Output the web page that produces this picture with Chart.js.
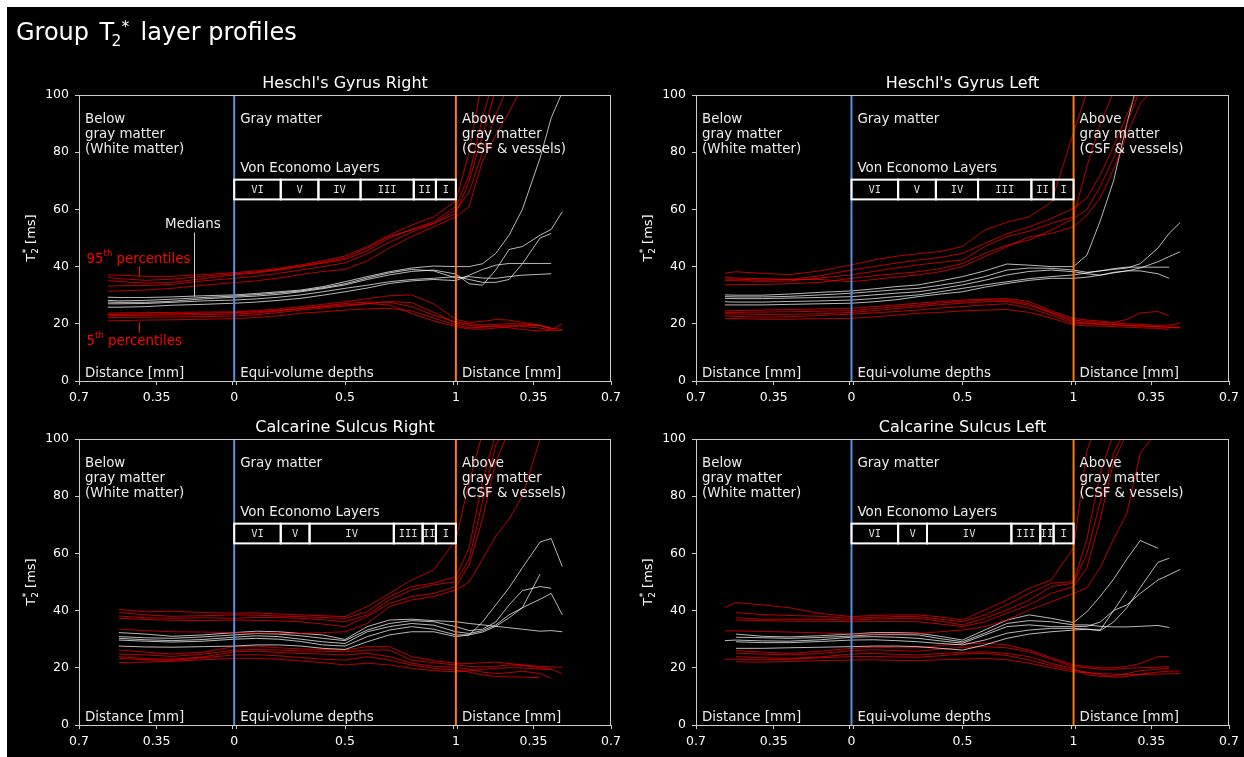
<!DOCTYPE html>
<html>
<head>
<meta charset="utf-8">
<script src="https://cdn.jsdelivr.net/npm/chart.js@4.4.0/dist/chart.umd.min.js"></script>
<style>
html,body{margin:0;padding:0;background:#fff;width:1244px;height:757px;overflow:hidden}
canvas{position:absolute;display:block}
</style>
</head>
<body>
<canvas id="bg" width="1244" height="757" style="left:0;top:0"></canvas>
<canvas id="c1"></canvas>
<canvas id="c2"></canvas>
<canvas id="c3"></canvas>
<canvas id="c4"></canvas>
<script>
// ---------------- data ----------------
const XS = [-0.57,-0.52,-0.4,-0.28,-0.14, 0,0.1,0.2,0.3,0.4,0.5,0.6,0.7,0.8,0.9,1.0, 1.06,1.12,1.18,1.24,1.30,1.38,1.43,1.48];
const X_TICKS = [-0.7,-0.35,-0.009,0,0.009,0.5,0.991,1,1.009,1.35,1.7];
const X_TICK_LABELS = ["0.7","0.35","","0","","0.5","","1","","0.35","0.7"];
const Y_TICKS = [0,20,40,60,80,100];
const LAYER_NAMES = ["VI","V","IV","III","II","I"];
const HG_LAYER_BOUNDS = [0,0.21,0.38,0.57,0.81,0.91,1.0];
const CS_LAYER_BOUNDS = [0,0.21,0.34,0.72,0.85,0.91,1.0];
const PANEL_TITLES = ["Heschl's Gyrus Right","Heschl's Gyrus Left","Calcarine Sulcus Right","Calcarine Sulcus Left"];

// Heschl's Gyrus Right
const HGR_P95 = [
 [37.1,37.0,36.6,36.6,37.2, 37.9,38.5,39.4,40.6,42.0,43.7,47.0,51.0,54.5,57.4,63.0, 80,106,null,null,null,null,null,null],
 [35.1,34.8,34.2,34.5,35.8, 37.1,37.8,38.8,40.0,41.2,42.5,45.5,50.0,53.0,55.7,61.0, 72,92,108,null,null,null,null,null],
 [33.2,33.3,33.4,33.8,35.0, 35.9,36.6,37.6,38.8,40.0,41.3,44.5,48.5,52.0,55.0,59.8, 66,80,93,104,null,null,null,null],
 [31.4,31.5,31.8,32.4,33.5, 34.4,35.0,36.0,37.2,38.3,39.0,42.0,46.5,50.5,53.9,57.4, 61,77,86,94,103,null,null,null],
 [36.2,35.8,35.2,35.6,36.6, 37.5,38.1,39.0,40.2,41.5,43.0,46.5,50.5,52.8,55.2,58.5, 70,86,102,null,null,null,null,null]
];
const HGR_MED = [
 [29.3,29.2,29.2,29.4,29.8, 30.1,30.6,31.2,31.8,33.0,34.7,36.5,38.2,39.5,40.2,40.0, 40.0,41.0,44.6,51.0,60.0,78.0,92.0,101],
 [27.6,27.5,27.5,27.9,28.7, 29.3,29.7,30.3,31.2,32.3,33.6,35.5,37.1,38.3,38.8,37.4, 34.0,33.5,38.8,46.0,47.0,51.0,53.0,59.2],
 [27.0,27.0,27.1,27.5,28.0, 28.3,28.7,29.3,30.1,31.2,32.4,33.5,34.7,35.5,35.9,36.5, 35.5,34.5,34.5,35.5,41.0,50.0,51.6,null],
 [25.8,25.8,26.0,26.5,26.8, 27.2,27.6,28.2,28.9,30.0,31.2,32.5,34.1,35.0,35.5,35.1, 37.0,39.0,40.5,41.1,41.1,41.1,41.1,null],
 [28.2,28.0,28.2,28.6,29.2, 29.7,30.2,30.8,31.5,32.6,34.0,36.0,37.8,39.0,38.5,36.0, 36.5,36.0,35.9,36.5,37.0,37.3,37.5,null]
];
const HGR_P5 = [
 [23.7,23.8,23.9,24.0,24.1, 24.2,24.6,25.2,26.0,26.8,27.7,28.8,29.8,30.1,27.0,21.5, 20.5,20.8,21.5,21.3,20.5,19.5,18.5,18.0],
 [22.8,22.9,23.0,23.1,23.2, 23.4,23.8,24.5,25.4,26.2,27.1,27.6,27.5,26.0,23.0,20.7, 20.0,19.6,19.8,20.0,20.0,19.4,18.2,null],
 [22.1,22.2,22.3,22.4,22.5, 22.7,23.2,23.9,24.8,25.5,26.2,27.0,27.8,27.4,24.0,20.2, 19.4,19.0,19.2,19.4,19.1,18.5,17.8,20.1],
 [21.0,21.1,21.3,21.4,21.6, 21.8,22.2,22.8,23.7,24.2,24.8,25.2,25.4,24.5,22.0,19.6, 18.6,18.8,19.2,18.6,18.0,17.5,17.8,17.6],
 [23.2,23.3,23.4,23.5,23.7, 23.9,24.2,24.7,25.3,26.0,26.6,27.1,26.6,23.6,21.0,19.0, 18.2,18.1,18.5,19.0,19.5,19.4,18.4,null]
];

// Heschl's Gyrus Left
const HGL_P95 = [
 [37.7,38.2,37.6,37.2,38.5, 40.6,42.3,43.6,44.5,45.3,47.0,52.8,55.5,57.4,62.5,87.0, 101,null,null,null,null,null,null,null],
 [35.6,35.6,35.3,35.5,36.8, 38.8,40.0,41.2,42.3,43.2,44.6,48.1,51.5,53.9,56.8,60.4, 64,72,82,93,104,null,null,null],
 [35.1,35.1,34.8,35.0,36.0, 37.1,38.3,39.5,40.6,41.5,42.3,47.0,50.5,52.4,55.1,57.4, 75,90,101,null,null,null,null,null],
 [33.6,33.7,33.8,34.0,34.5, 35.9,36.8,37.5,38.2,39.3,41.1,44.6,47.5,49.3,52.8,56.8, 60,68,78,90,102,null,null,null],
 [36.2,36.0,35.8,35.5,35.5, 34.7,35.5,36.3,37.1,38.2,40.0,43.5,47.0,50.4,51.6,53.9, 58,64,74,86,97,104,null,null]
];
const HGL_MED = [
 [30.1,30.0,30.0,30.4,31.0, 31.5,32.2,33.0,33.6,35.0,36.5,38.5,40.9,40.5,40.0,40.0, 44,56,70,90,108,null,null,null],
 [29.5,29.4,29.4,29.6,30.1, 30.7,31.3,31.9,32.4,33.5,34.7,36.5,38.8,39.5,39.4,38.8, 38.0,38.5,39.0,39.5,41.0,46.5,51.6,55.4],
 [28.9,28.8,28.8,29.0,29.2, 29.5,30.1,30.7,31.2,32.3,33.6,35.2,37.1,38.3,38.8,38.2, 37.5,37.0,38.0,38.5,39.5,41.7,43.5,45.2],
 [27.7,27.6,27.6,27.8,28.0, 28.3,28.8,29.5,30.1,31.2,32.4,33.6,34.7,35.8,36.5,37.1, 37.8,38.5,39.3,39.8,39.8,39.8,39.8,null],
 [26.6,26.6,26.6,26.8,27.0, 27.2,27.7,28.4,29.5,30.4,31.2,32.8,34.1,35.2,35.9,35.9, 36.3,37.0,37.8,38.5,38.5,37.5,35.9,null]
];
const HGL_P5 = [
 [24.5,24.6,24.8,25.0,25.2, 25.4,26.0,26.6,27.2,27.8,28.3,28.6,28.8,27.8,24.5,21.9, 21.3,21.0,20.5,21.5,23.8,24.3,22.8,null],
 [24.0,24.0,24.1,24.2,24.4, 24.6,25.3,26.0,26.6,27.3,27.8,28.3,28.3,27.0,24.0,21.3, 20.8,20.5,20.3,20.0,19.8,19.5,19.5,20.2],
 [23.5,23.4,23.3,23.3,23.5, 24.0,24.6,25.3,26.0,26.7,27.2,27.7,27.8,26.5,23.8,20.7, 20.3,20.0,19.8,19.5,19.3,19.0,18.8,18.9],
 [22.8,22.6,22.3,22.5,22.9, 23.4,23.8,24.3,24.8,25.5,26.0,26.6,27.0,25.5,23.0,20.2, 20.0,19.8,19.6,19.4,19.2,19.0,18.8,18.6],
 [21.9,21.8,21.6,21.6,21.8, 21.9,22.4,23.0,23.7,24.0,24.5,24.8,25.0,24.0,22.0,19.6, 19.3,19.2,19.0,18.8,18.6,18.4,18.0,null]
];

// Calcarine Sulcus Right
const CSR_P95 = [
 [null,40.4,39.6,39.8,39.3, 39.1,39.2,38.8,38.5,38.2,37.9,41.4,46.0,50.7,54.2,64.7, 85,102,null,null,null,null,null,null],
 [null,39.3,38.5,38.0,38.2, 38.5,38.4,38.1,37.9,37.6,37.3,39.6,44.9,48.4,49.6,51.9, 62,85,102,null,null,null,null,null],
 [null,38.1,37.5,37.3,37.5, 37.3,37.6,37.6,37.3,36.8,36.1,38.5,43.7,47.2,49.0,50.1, 58,78,98,104,null,null,null,null],
 [null,37.3,36.9,36.6,36.5, 36.7,36.6,36.4,36.1,35.3,34.4,37.9,42.5,44.9,46.0,48.4, 56,72,92,103,null,null,null,null],
 [null,33.5,33.0,32.6,32.5, 32.3,32.1,32.0,32.0,32.3,32.6,35.5,41.4,43.7,44.9,47.2, 50,58,66,72,80,100,null,null]
];
const CSR_MED = [
 [null,32.3,31.8,31.0,31.5, 32.3,32.8,32.6,32.0,31.5,29.9,34.4,36.7,37.0,36.5,36.1, 35.5,35.0,34.5,34.0,33.5,32.8,33.0,32.6],
 [null,30.9,30.5,30.3,30.8, 31.5,32.0,31.8,31.2,30.3,29.5,33.2,35.5,36.5,36.1,34.4, 33.0,33.5,36.0,42.0,47.0,48.4,47.8,null],
 [null,30.3,29.8,29.5,29.9, 30.7,31.2,30.9,30.0,29.1,28.5,32.6,34.4,35.5,34.9,32.6, 32.0,33.0,35.0,38.5,41.0,44.0,46.0,38.5],
 [null,29.7,29.3,29.0,29.3, 30.0,30.3,30.0,29.2,28.0,27.6,30.9,33.2,34.4,33.5,31.5, 31.5,32.5,34.5,37.5,41.0,52.8,null,null],
 [null,27.6,27.3,27.2,27.4, 27.6,28.0,28.0,27.6,26.8,26.4,29.1,31.5,32.6,32.6,30.9, 31.5,36.0,42.0,48.0,55.0,64.0,65.2,55.4]
];
const CSR_P5 = [
 [null,26.2,25.5,24.8,25.5, 27.4,27.6,27.0,26.6,26.4,26.2,27.4,27.4,23.9,22.5,21.6, 21.5,21.8,22.0,21.5,21.0,20.5,20.3,20.2],
 [null,24.8,24.5,24.0,24.8, 26.2,26.4,26.2,25.9,25.8,25.6,26.2,26.2,22.7,21.8,21.0, 20.5,20.3,20.5,21.0,20.8,20.0,19.5,18.0],
 [null,23.9,23.2,23.0,23.8, 25.6,25.8,25.4,25.0,24.8,24.5,25.1,23.9,21.6,20.5,20.2, 19.5,18.5,18.0,18.3,18.8,18.0,16.3,null],
 [null,23.3,22.8,22.6,23.5, 24.5,24.6,24.2,23.6,23.0,22.7,23.9,22.7,21.0,19.8,19.2, 18.5,17.5,17.0,16.8,16.8,16.5,null,null],
 [null,21.8,22.0,22.3,22.8, 23.3,23.3,23.0,22.4,21.8,21.0,21.6,21.0,19.8,19.0,18.6, 19.0,19.5,19.8,20.0,20.0,19.5,19.5,null]
];

// Calcarine Sulcus Left
const CSL_P95 = [
 [41.1,42.8,42.0,41.0,39.0, 37.9,38.3,38.5,38.5,37.8,36.7,40.2,43.7,47.8,50.7,62.0, 96,108,null,null,null,null,null,null],
 [null,39.3,38.6,38.3,38.0, 37.3,37.6,37.9,37.9,37.0,36.1,38.5,42.0,46.0,49.6,50.1, 65,88,102,null,null,null,null,null],
 [null,37.5,37.0,37.0,37.0, 36.7,37.0,37.3,37.3,36.3,35.0,37.3,40.2,43.7,48.4,49.6, 60,78,95,104,null,null,null,null],
 [null,36.7,36.5,36.3,36.3, 36.1,36.2,36.2,36.1,35.3,34.4,36.1,39.1,42.0,46.0,48.4, 55,72,92,102,null,null,null,null],
 [32.9,32.9,32.7,32.5,32.2, 31.8,31.8,31.9,32.0,32.6,33.2,34.4,36.7,40.2,43.1,46.0, 48,55,65,74,95,103,null,null]
];
const CSL_MED = [
 [null,31.8,31.0,30.8,31.2, 31.8,32.3,32.3,32.1,31.0,29.7,33.2,36.7,38.5,37.3,35.8, 39.6,45.0,51.0,58.0,64.5,61.8,null,null],
 [null,30.7,30.5,30.3,30.6, 31.1,31.6,31.6,31.5,30.2,29.1,32.1,35.5,36.5,36.1,35.0, 35.0,34.5,34.3,34.3,34.5,34.8,34.1,null],
 [29.5,29.7,29.4,29.3,29.8, 30.7,30.9,30.7,30.3,29.4,28.6,31.5,34.4,35.0,34.4,34.4, 34.5,36.0,40.0,42.0,46.0,50.7,52.5,54.4],
 [null,29.1,28.8,28.8,29.2, 29.7,29.8,29.5,29.1,28.5,28.0,29.7,32.1,33.2,33.8,33.8, 33.5,33.0,36.0,41.0,48.0,56.9,58.3,null],
 [null,26.8,26.8,27.0,27.2, 27.4,27.6,27.6,27.4,26.8,26.2,28.0,30.3,31.8,32.6,33.2, 33.5,33.2,40.0,47.0,null,null,null,null]
];
const CSL_P5 = [
 [null,26.0,25.5,25.0,25.8, 26.8,27.2,27.0,27.0,27.8,28.3,28.6,28.0,26.2,23.5,21.0, 20.5,20.0,20.0,20.5,21.5,23.9,23.9,null],
 [null,25.1,24.8,24.5,25.0, 26.0,26.3,26.0,25.8,26.5,27.2,27.4,27.0,25.6,23.0,20.4, 20.0,19.5,19.5,19.8,20.0,20.2,20.4,null],
 [null,23.9,23.5,23.3,23.8, 24.8,25.0,24.7,24.5,25.0,25.4,25.6,25.0,23.9,21.5,19.8, 17.5,17.0,17.2,18.0,19.0,19.5,19.8,null],
 [23.0,23.0,22.8,23.0,23.5, 23.9,24.0,23.8,23.7,24.2,24.8,25.1,24.3,22.7,20.8,19.2, 18.5,17.5,16.7,17.0,17.8,18.5,18.8,18.9],
 [null,22.1,22.0,22.2,22.5, 22.7,22.8,22.6,22.5,22.8,23.0,23.3,22.8,21.6,20.0,18.6, 18.3,18.0,17.8,17.7,17.6,17.8,17.9,18.0]
];

// ---------------- styling ----------------
const FONT = '"DejaVu Sans", sans-serif';
const RED_LINE = 'rgba(255,0,0,0.72)';
const WHITE_LINE = 'rgba(255,255,255,0.72)';
const BLUE = '#5b8fdc';
const ORANGE = '#ff7a12';
const SPINE = '#cccccc';
const TXT = '#ececec';
const AFONT = '13.4px ' + FONT;

// background + main title
(function(){
  const c = document.getElementById('bg').getContext('2d');
  c.fillStyle = '#fff'; c.fillRect(0,0,1244,757);
  c.fillStyle = '#000'; c.fillRect(7,7,1237,750);
  c.fillStyle = '#fff'; c.textBaseline = 'alphabetic'; c.textAlign = 'left';
  c.font = '24px ' + FONT;
  c.fillText('Group', 16, 39.5);
  c.fillText('T', 99.5, 39.5);
  c.font = '15.5px ' + FONT;
  c.fillText('2', 111.5, 45.5);
  c.fillText('*', 121.5, 31.5);
  c.font = '24px ' + FONT;
  c.fillText('layer profiles', 140.5, 39.5);
})();

const overlay = {
  id: 'overlay',
  afterDatasetsDraw(chart, args, o) {
    const ctx = chart.ctx, a = chart.chartArea, xs = chart.scales.x, ys = chart.scales.y;
    const X = v => xs.getPixelForValue(v), Y = v => ys.getPixelForValue(v);
    ctx.save();
    // top & right spines
    ctx.strokeStyle = SPINE; ctx.lineWidth = 1;
    const tp = Math.round(a.top) + 0.5, rp = Math.round(a.right) - 0.5;
    ctx.beginPath();
    ctx.moveTo(a.left, tp); ctx.lineTo(rp + 0.5, tp);
    ctx.moveTo(rp, a.top); ctx.lineTo(rp, a.bottom);
    ctx.stroke();
    // Von Economo layer boxes
    const yt = Y(70.4), yb = Y(63.5);
    ctx.lineWidth = 2; ctx.strokeStyle = '#ffffff';
    for (let i = 0; i < o.bounds.length - 1; i++) {
      const x0 = X(o.bounds[i]), x1 = X(o.bounds[i+1]);
      ctx.strokeRect(x0, yt, x1 - x0, yb - yt);
    }
    ctx.font = '10.5px "DejaVu Sans Mono", monospace';
    ctx.fillStyle = '#dddddd'; ctx.textAlign = 'center'; ctx.textBaseline = 'middle';
    for (let i = 0; i < o.bounds.length - 1; i++) {
      const x0 = X(o.bounds[i]), x1 = X(o.bounds[i+1]);
      ctx.fillText(LAYER_NAMES[i], (x0 + x1) / 2, (yt + yb) / 2 + 0.5);
    }
    // region texts
    ctx.font = AFONT; ctx.fillStyle = TXT; ctx.textAlign = 'left'; ctx.textBaseline = 'alphabetic';
    const xl = X(-0.7) + 6, xm = X(0) + 6, xr = X(1) + 6;
    ctx.fillText('Below', xl, a.top + 27.7);
    ctx.fillText('gray matter', xl, a.top + 42.7);
    ctx.fillText('(White matter)', xl, a.top + 57.7);
    ctx.fillText('Gray matter', xm, a.top + 27.7);
    ctx.fillText('Above', xr, a.top + 27.7);
    ctx.fillText('gray matter', xr, a.top + 42.7);
    ctx.fillText('(CSF & vessels)', xr, a.top + 57.7);
    ctx.fillText('Von Economo Layers', xm, a.top + 76.7);
    ctx.fillText('Distance [mm]', xl, a.bottom - 4.5);
    ctx.fillText('Equi-volume depths', xm, a.bottom - 4.5);
    ctx.fillText('Distance [mm]', xr, a.bottom - 4.5);
    // panel title
    ctx.font = '16px ' + FONT; ctx.fillStyle = '#ffffff'; ctx.textAlign = 'center';
    ctx.fillText(o.title, (a.left + a.right) / 2, a.top - 6.7);
    // y-axis title T2* [ms]
    ctx.save();
    ctx.translate(a.left - 44, (a.top + a.bottom) / 2);
    ctx.rotate(-Math.PI / 2);
    ctx.textAlign = 'left'; ctx.fillStyle = '#ffffff';
    ctx.font = '13px ' + FONT;
    const wT = ctx.measureText('T').width, wR = ctx.measureText(' [ms]').width;
    ctx.font = '9px ' + FONT;
    const wS = Math.max(ctx.measureText('2').width, ctx.measureText('*').width);
    let cx = -(wT + wS + wR) / 2;
    ctx.font = '13px ' + FONT; ctx.fillText('T', cx, 0); cx += wT;
    ctx.font = '9px ' + FONT; ctx.fillText('2', cx, 3); ctx.fillText('*', cx + 0.5, -6); cx += wS;
    ctx.font = '13px ' + FONT; ctx.fillText(' [ms]', cx, 0);
    ctx.restore();
    // legend-like annotations (first panel only)
    if (o.anno) {
      ctx.textBaseline = 'alphabetic';
      ctx.font = AFONT; ctx.fillStyle = TXT; ctx.textAlign = 'center';
      ctx.fillText('Medians', X(-0.186), Y(53.6));
      ctx.strokeStyle = '#cfcfcf'; ctx.lineWidth = 1;
      ctx.beginPath();
      const mx = Math.round(X(-0.182)) + 0.5;
      ctx.moveTo(mx, Y(51.9)); ctx.lineTo(mx, Y(29.5)); ctx.stroke();
      ctx.fillStyle = '#ff0000'; ctx.strokeStyle = '#ff0000'; ctx.textAlign = 'left';
      const sup = (base, x0, yb) => {
        ctx.font = AFONT; ctx.fillText(base, x0, yb);
        let xx = x0 + ctx.measureText(base).width;
        ctx.font = '8.5px ' + FONT; ctx.fillText('th', xx, yb - 6.5);
        xx += ctx.measureText('th').width;
        ctx.font = AFONT; ctx.fillText(' percentiles', xx, yb);
      };
      sup('95', X(-0.666), Y(41.4));
      sup('5', X(-0.666), Y(12.6));
      const px = Math.round(X(-0.431)) + 0.5;
      ctx.beginPath();
      ctx.moveTo(px, Y(40.2)); ctx.lineTo(px, Y(36.5));
      ctx.moveTo(px, Y(20.7)); ctx.lineTo(px, Y(16.9));
      ctx.stroke();
    }
    ctx.restore();
  }
};

function lineSet(arrs, color) {
  return arrs.map(arr => ({
    data: XS.map((x, i) => ({x: x, y: arr[i]})),
    borderColor: color, borderWidth: 1, pointRadius: 0, tension: 0,
    fill: false, spanGaps: false, order: 1
  }));
}

function panel(id, plotL, plotT, plotW, plotH, title, bounds, p95, med, p5, anno) {
  const cv = document.getElementById(id);
  const W = plotW + 70 + 14, H = plotH + 40 + 28;
  cv.width = W; cv.height = H;
  cv.style.left = (plotL - 70) + 'px'; cv.style.top = (plotT - 40) + 'px';
  cv.style.width = W + 'px'; cv.style.height = H + 'px';
  const datasets = [
    {data: [{x: 0, y: 0}, {x: 0, y: 100}], borderColor: BLUE, borderWidth: 2, pointRadius: 0, order: 0},
    {data: [{x: 1, y: 0}, {x: 1, y: 100}], borderColor: ORANGE, borderWidth: 2, pointRadius: 0, order: 0}
  ].concat(lineSet(p95, RED_LINE), lineSet(med, WHITE_LINE), lineSet(p5, RED_LINE));
  new Chart(cv, {
    type: 'line',
    data: {datasets: datasets},
    plugins: [overlay],
    options: {
      responsive: false, animation: false, devicePixelRatio: 1,
      layout: {padding: {left: 0, right: 14, top: 40, bottom: 0}},
      plugins: {
        legend: {display: false}, tooltip: {enabled: false}, title: {display: false},
        overlay: {title: title, bounds: bounds, anno: anno}
      },
      scales: {
        x: {
          type: 'linear', min: -0.7, max: 1.7,
          afterBuildTicks: s => { s.ticks = X_TICKS.map(v => ({value: v})); },
          afterFit: s => { s.height = 28; },
          ticks: {
            autoSkip: false, maxRotation: 0, minRotation: 0, color: '#ffffff', padding: 5,
            font: {family: 'DejaVu Sans', size: 12.5},
            callback: (v, i) => X_TICK_LABELS[i]
          },
          grid: {
            drawOnChartArea: false, drawTicks: true, tickLength: 4, lineWidth: 1,
            color: c => (c.tick && (c.tick.value === 0 || c.tick.value === 1)) ? 'rgba(0,0,0,0)' : SPINE
          },
          border: {display: true, color: SPINE, width: 1}
        },
        y: {
          type: 'linear', min: 0, max: 100,
          afterBuildTicks: s => { s.ticks = Y_TICKS.map(v => ({value: v})); },
          afterFit: s => { s.width = 70; },
          ticks: {color: '#ffffff', padding: 6, font: {family: 'DejaVu Sans', size: 12.5}},
          grid: {drawOnChartArea: false, drawTicks: true, tickLength: 4, lineWidth: 1, color: SPINE},
          border: {display: true, color: SPINE, width: 1}
        }
      }
    }
  });
}

panel('c1', 79, 95, 533, 286, PANEL_TITLES[0], HG_LAYER_BOUNDS, HGR_P95, HGR_MED, HGR_P5, true);
panel('c2', 696, 95, 534, 286, PANEL_TITLES[1], HG_LAYER_BOUNDS, HGL_P95, HGL_MED, HGL_P5, false);
panel('c3', 79, 439, 533, 286, PANEL_TITLES[2], CS_LAYER_BOUNDS, CSR_P95, CSR_MED, CSR_P5, false);
panel('c4', 696, 439, 534, 286, PANEL_TITLES[3], CS_LAYER_BOUNDS, CSL_P95, CSL_MED, CSL_P5, false);
</script>
</body>
</html>
